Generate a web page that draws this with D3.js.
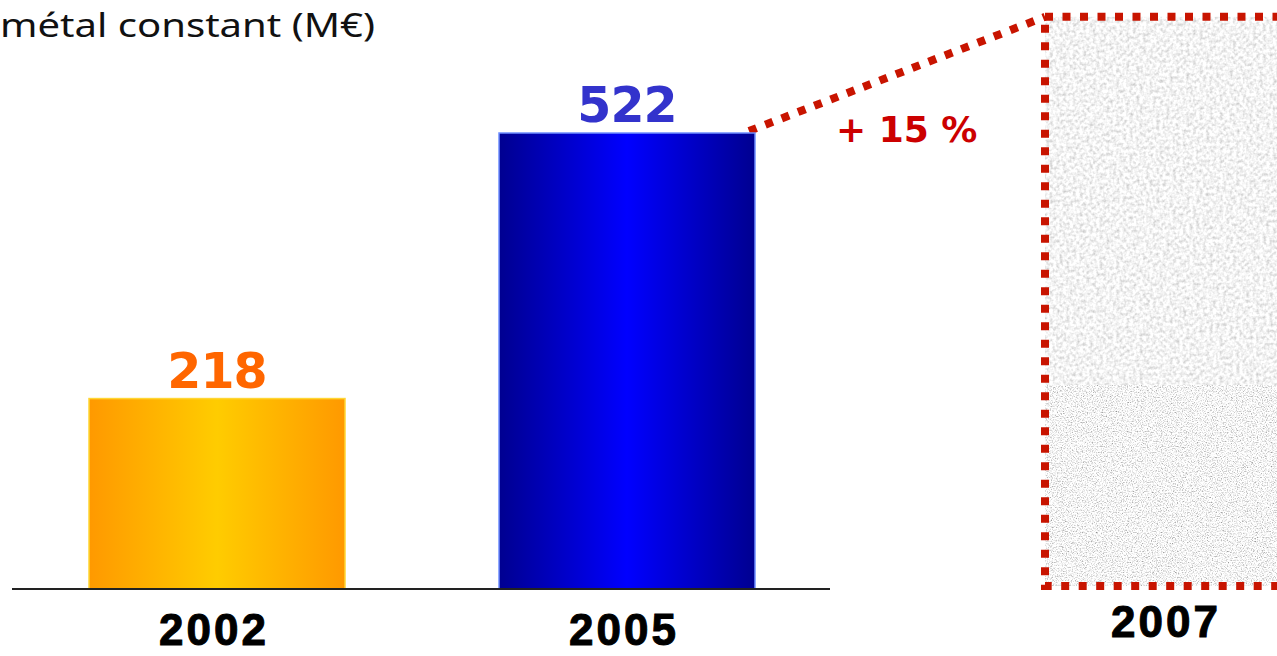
<!DOCTYPE html>
<html>
<head>
<meta charset="utf-8">
<script src="https://cdn.jsdelivr.net/npm/d3@7"></script>
<style>
  body { margin: 0; background: #fff; overflow: hidden; }
  svg { display: block; }
</style>
</head>
<body>
<svg id="chart"></svg>
<script>
// data
const years = ["2002", "2005"];
const values = [218, 522];
const targetYear = "2007";
const targetValue = 655;
const growthLabel = "+ 15 %";
const title = "métal constant (M€)";

// constants
const width = 1277;
const height = 656;
const baseY = 589;

const svg = d3.select('svg#chart').attr('width', width).attr('height', height);
const defs = svg.append('defs');

// gradients for the bars
function barGradient(id, edge, mid) {
  const g = defs.append('linearGradient').attr('id', id)
    .attr('x1', 0).attr('x2', 1).attr('y1', 0).attr('y2', 0);
  g.append('stop').attr('offset', '0%').attr('stop-color', edge);
  g.append('stop').attr('offset', '50%').attr('stop-color', mid);
  g.append('stop').attr('offset', '100%').attr('stop-color', edge);
}
barGradient('grad-orange', '#ff9900', '#ffcc00');
barGradient('grad-blue', '#000090', '#0000ff');

// grainy texture for the 2007 box
function noiseFilter(id, freq, seed, gain, offset) {
  const f = defs.append('filter').attr('id', id)
    .attr('x', 0).attr('y', 0).attr('width', 1).attr('height', 1);
  f.append('feTurbulence').attr('type', 'fractalNoise')
    .attr('baseFrequency', freq).attr('numOctaves', 2).attr('seed', seed).attr('result', 't');
  const row = gain + ' 0 0 0 ' + offset;
  f.append('feColorMatrix').attr('in', 't').attr('type', 'matrix')
    .attr('values', row + '  ' + row + '  ' + row + '  0 0 0 0 1')
    .attr('result', 'g');
  f.append('feComposite').attr('in', 'g').attr('in2', 'SourceGraphic').attr('operator', 'in');
}
noiseFilter('noise-soft', 0.3, 4, 0.8, 0.5);
noiseFilter('noise-grain', 0.8, 7, 1.6, 0.12);

// scales
const x = d3.scaleBand().domain(years).range([89, 755]).paddingInner(0.3756);
const y = d3.scaleLinear().domain([0, 522]).range([baseY, 133]);
const colors = d3.scaleOrdinal().domain(years).range(['url(#grad-orange)', 'url(#grad-blue)']);
const borders = d3.scaleOrdinal().domain(years).range(['#ffd633', '#6f8fff']);
const labelColors = d3.scaleOrdinal().domain(years).range(['#ff6600', '#3333cc']);

// title
svg.append('text')
  .attr('x', 0).attr('y', 37)
  .attr('textLength', 375).attr('lengthAdjust', 'spacingAndGlyphs')
  .style('font-family', '"Noto Sans", Lato, sans-serif')
  .style('font-size', '33px')
  .style('fill', '#111')
  .text(title);

// target box (2007)
const boxX = 1045;
const boxW = 270;
const boxTop = y(targetValue);
const boxBottom = baseY - 3;
const splitY = 385;

svg.append('rect')
  .attr('x', boxX).attr('y', boxTop)
  .attr('width', boxW).attr('height', splitY - boxTop)
  .attr('fill', '#fff')
  .attr('filter', 'url(#noise-soft)');
svg.append('rect')
  .attr('x', boxX).attr('y', splitY)
  .attr('width', boxW).attr('height', boxBottom - splitY)
  .attr('fill', '#fff')
  .attr('filter', 'url(#noise-grain)');

svg.append('rect')
  .attr('x', boxX).attr('y', boxTop)
  .attr('width', boxW).attr('height', boxBottom - boxTop)
  .attr('fill', 'none')
  .attr('stroke', '#c81400')
  .attr('stroke-width', 8)
  .attr('stroke-dasharray', '8 9.5');

// dotted growth line from 2005 bar top to the box
svg.append('line')
  .attr('x1', x('2005') + x.bandwidth() - 6).attr('y1', y(522) - 2)
  .attr('x2', boxX).attr('y2', boxTop)
  .attr('stroke', '#c81400')
  .attr('stroke-width', 8)
  .attr('stroke-dasharray', '8 9.5');

svg.append('text')
  .attr('x', 836).attr('y', 142)
  .style('font-family', '"DejaVu Sans", sans-serif')
  .style('font-weight', 'bold')
  .style('font-size', '36px')
  .style('fill', '#cc0000')
  .text(growthLabel);

// bars
const data = years.map((d, i) => ({ year: d, value: values[i] }));

svg.append('g').selectAll('rect').data(data)
  .enter().append('rect')
  .attr('x', d => x(d.year))
  .attr('y', d => y(d.value))
  .attr('width', x.bandwidth())
  .attr('height', d => baseY - y(d.value))
  .attr('fill', d => colors(d.year))
  .attr('stroke', d => borders(d.year))
  .attr('stroke-width', 1.5);

// value labels
svg.append('g').selectAll('text').data(data)
  .enter().append('text')
  .attr('x', d => x(d.year) + x.bandwidth() / 2)
  .attr('y', d => y(d.value) - 11)
  .attr('text-anchor', 'middle')
  .style('font-family', '"DejaVu Sans", Verdana, sans-serif')
  .style('font-weight', 'bold')
  .style('font-size', '49px')
  .style('letter-spacing', '-1px')
  .style('fill', d => labelColors(d.year))
  .text(d => d.value);

// baseline
svg.append('line')
  .attr('x1', 12).attr('x2', 830)
  .attr('y1', baseY).attr('y2', baseY)
  .attr('stroke', '#222').attr('stroke-width', 2);

// year labels
const yearStyle = sel => sel
  .attr('text-anchor', 'middle')
  .style('font-family', '"Liberation Sans", Arial, sans-serif')
  .style('font-weight', 'bold')
  .style('font-size', '44px')
  .style('letter-spacing', '3px')
  .style('fill', '#000')
  .style('stroke', '#000')
  .style('stroke-width', 1);

svg.append('g').selectAll('text').data(years)
  .enter().append('text')
  .attr('x', d => x(d) + x.bandwidth() / 2 - 3)
  .attr('y', 645)
  .call(yearStyle)
  .text(d => d);

svg.append('text')
  .attr('x', 1166).attr('y', 637)
  .call(yearStyle)
  .text(targetYear);
</script>
</body>
</html>
